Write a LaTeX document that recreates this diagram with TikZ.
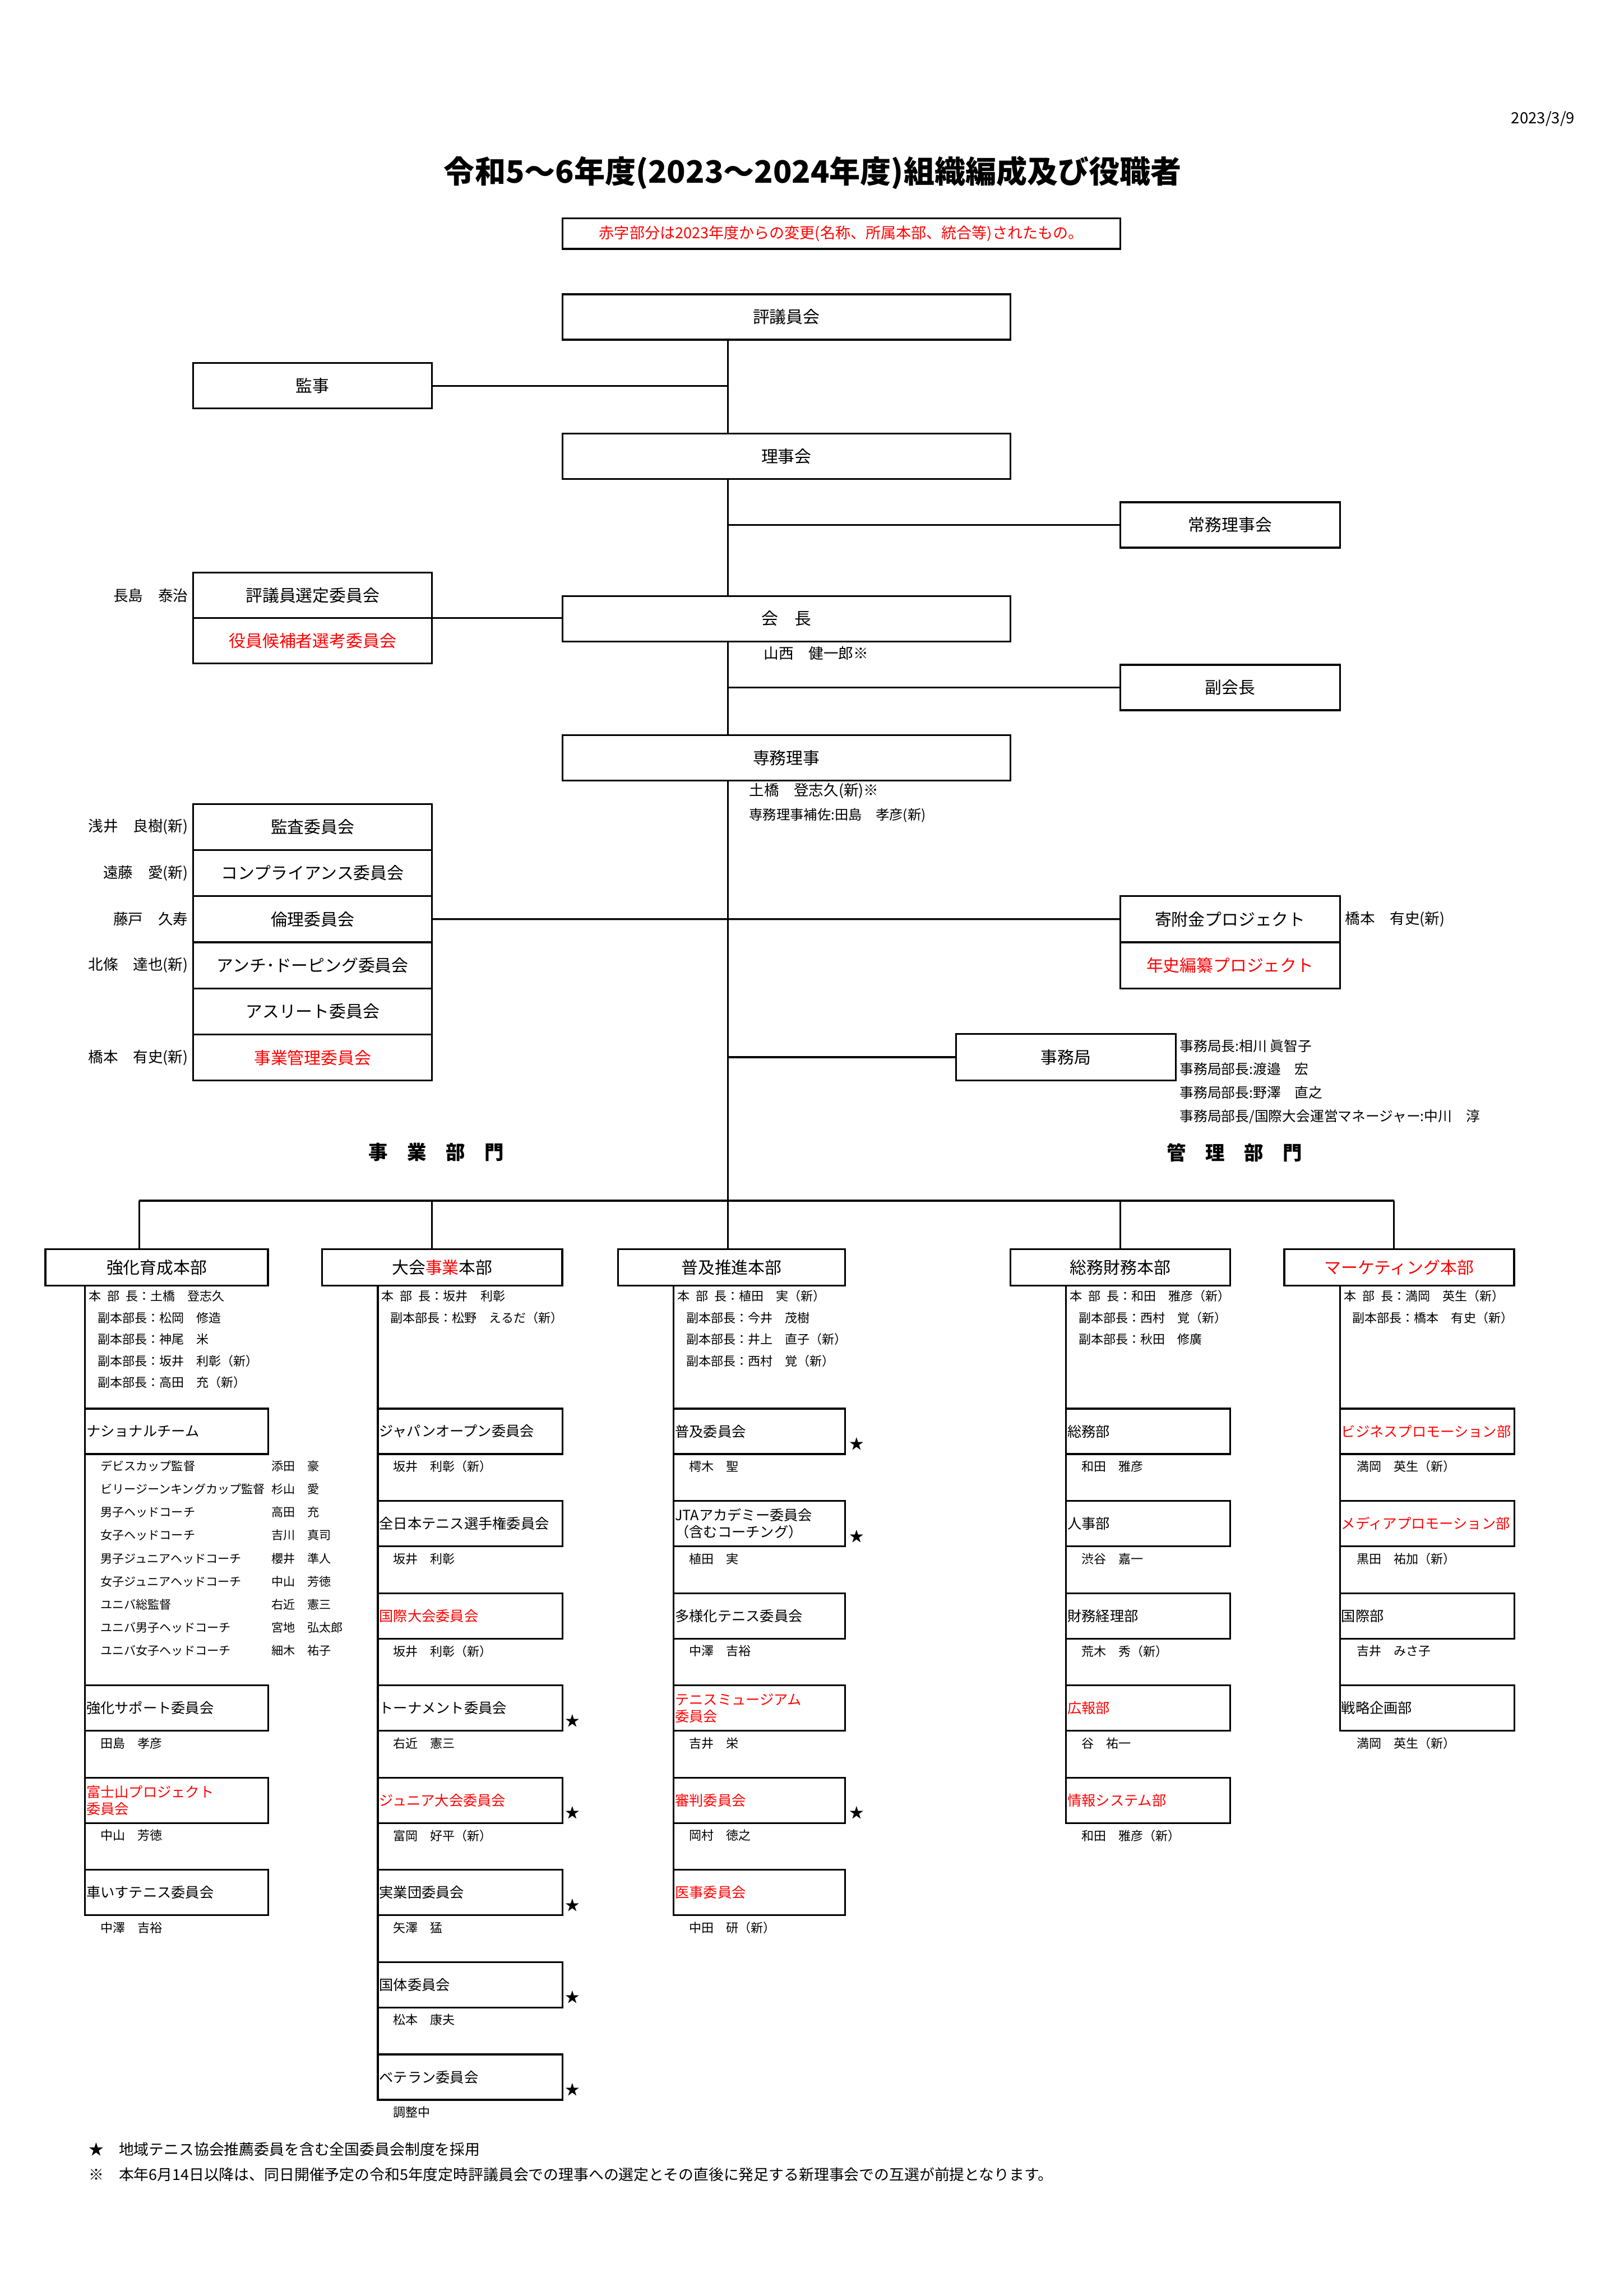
\documentclass[tikz,border=0pt]{standalone}
\usepackage{fontspec}
\setmainfont{Noto Sans CJK JP}
\usepackage{tikz}
\usetikzlibrary{positioning}
\definecolor{chg}{RGB}{255,0,0}

\begin{document}
\begin{tikzpicture}[
    x=0.02cm, y=-0.02cm,
    line width=0.7pt,
    unit/.style={
        draw, outer sep=0pt, inner sep=1pt,
        minimum height=0.62cm,
        font=\fontsize{6.5}{7.5}\selectfont
    },
    hq/.style={
        draw, outer sep=0pt, inner sep=1pt,
        minimum height=0.5cm,
        font=\fontsize{6.5}{7.5}\selectfont
    },
    sub/.style={
        draw, outer sep=0pt, inner xsep=0.6pt, inner ysep=1pt,
        anchor=north west, minimum height=0.62cm, align=left,
        font=\fontsize{5.5}{6.6}\selectfont
    },
    person/.style={inner sep=0pt, font=\fontsize{5.8}{6.5}\selectfont},
    staff/.style={inner sep=0pt, anchor=north west, align=left, font=\fontsize{4.8}{8.4}\selectfont},
    member/.style={inner sep=0pt, font=\fontsize{4.8}{6}\selectfont},
    sect/.style={inner sep=0pt, font=\fontsize{7.5}{9}\selectfont\bfseries},
    starmk/.style={inner sep=0pt, font=\fontsize{5.6}{6}\selectfont},
]
\useasboundingbox (0,0) rectangle (1109,1568);

% ── Header ──
\node[inner sep=0pt, anchor=east, font=\fontsize{6}{7}\selectfont] (date) at (1076,81) {2023/3/9};
\node[inner sep=0pt, font=\fontsize{12}{14}\selectfont\bfseries] (title) at (555,118) {令和5～6年度(2023～2024年度)組織編成及び役職者};
\node[draw, outer sep=0pt, inner sep=1pt, minimum width=7.62cm, minimum height=0.42cm,
      text=chg, font=\fontsize{5.9}{7}\selectfont] (memo) at (574.5,159.5) {赤字部分は2023年度からの変更(名称、所属本部、統合等)されたもの。};

% ── Governance ──
\node[unit, minimum width=6.12cm] (hyogi) at (537,216.5) {評議員会};
\node[unit, minimum width=3.26cm] (kanji) at (213.5,263.5) {監事};
\node[unit, minimum width=6.12cm] (rijikai) at (537,311.5) {理事会};
\node[unit, minimum width=3.0cm] (jomu) at (840,358.5) {常務理事会};
\node[unit, minimum width=3.26cm] (sentei) at (213.5,406.5) {評議員選定委員会};
\node[unit, minimum width=3.26cm, text=chg, below=0pt of sentei] (senko) {役員候補者選考委員会};
\node[unit, minimum width=6.12cm] (kaicho) at (537,422.5) {会　長};
\node[unit, minimum width=3.0cm] (fuku) at (840,469.5) {副会長};
\node[unit, minimum width=6.12cm] (senmu) at (537,517.5) {専務理事};

\node[person, left=0.06cm of sentei] (senteinm) {長島　泰治};
\node[person, anchor=west] (kaichonm) at (521,446) {山西　健一郎※};
\node[person, anchor=west] (senmunm) at (511,540) {土橋　登志久(新)※};
\node[person, anchor=west, font=\fontsize{5.3}{6}\selectfont] (hosanm) at (511,557) {専務理事補佐:田島　孝彦(新)};

% ── Committees ──
\node[unit, minimum width=3.26cm, minimum height=0.63cm] (kansa) at (213.5,564.75) {監査委員会};
\node[unit, minimum width=3.26cm, minimum height=0.63cm, below=0pt of kansa] (comp) {コンプライアンス委員会};
\node[unit, minimum width=3.26cm, minimum height=0.63cm, below=0pt of comp] (rinri) {倫理委員会};
\node[unit, minimum width=3.26cm, minimum height=0.63cm, below=0pt of rinri] (dope) {アンチ･ドーピング委員会};
\node[unit, minimum width=3.26cm, minimum height=0.63cm, below=0pt of dope] (athl) {アスリート委員会};
\node[unit, minimum width=3.26cm, minimum height=0.63cm, text=chg, below=0pt of athl] (jigyo) {事業管理委員会};

\node[person, left=0.06cm of kansa] (kansanm) {浅井　良樹(新)};
\node[person, left=0.06cm of comp] (compnm) {遠藤　愛(新)};
\node[person, left=0.06cm of rinri] (rinrinm) {藤戸　久寿};
\node[person, left=0.06cm of dope] (dopenm) {北條　達也(新)};
\node[person, left=0.06cm of jigyo] (jigyonm) {橋本　有史(新)};

\node[unit, minimum width=3.0cm, minimum height=0.63cm] (kifu) at (840,627.75) {寄附金プロジェクト};
\node[unit, minimum width=3.0cm, minimum height=0.63cm, text=chg, below=0pt of kifu] (nenshi) {年史編纂プロジェクト};
\node[person, right=0.06cm of kifu] (kifunm) {橋本　有史(新)};

\node[unit, minimum width=3.0cm, minimum height=0.64cm] (jimu) at (728,722) {事務局};
\node[staff, font=\fontsize{5.4}{9.1}\selectfont] (jimunm) at (805,709.2) {事務局長:相川 眞智子\\事務局部長:渡邉　宏\\事務局部長:野澤　直之\\事務局部長/国際大会運営マネージャー:中川　淳};

\node[sect] (jigyobu) at (298,787) {事　業　部　門};
\node[sect] (kanribu) at (843,787) {管　理　部　門};

% ── Trunk ──
\coordinate (bar) at (497,820);
\coordinate (d1) at (95,820);
\coordinate (d2) at (295,820);
\coordinate (d4) at (765,820);
\coordinate (d5) at (952,820);

\draw (hyogi.south -| bar) -- (rijikai.north -| bar);
\draw (rijikai.south -| bar) -- (kaicho.north -| bar);
\draw (kaicho.south -| bar) -- (senmu.north -| bar);
\draw (senmu.south -| bar) -- (bar);
\draw (kanji.east) -- (kanji.east -| bar);
\draw (jomu.west) -- (jomu.west -| bar);
\draw (sentei.south east) -- (sentei.south east -| kaicho.west);
\draw (fuku.west) -- (fuku.west -| bar);
\draw (rinri.east) -- (kifu.west);
\draw (jimu.west) -- (jimu.west -| bar);

% ── Headquarters ──
\node[hq, minimum width=3.04cm] (hq1) at (107,865.5) {強化育成本部};
\node[hq, minimum width=3.28cm] (hq2) at (302,865.5) {大会{\color{chg}事業}本部};
\node[hq, minimum width=3.1cm] (hq3) at (499.5,865.5) {普及推進本部};
\node[hq, minimum width=3.0cm] (hq4) at (765,865.5) {総務財務本部};
\node[hq, minimum width=3.14cm, text=chg] (hq5) at (955.5,865.5) {マーケティング本部};

\draw (d1) -- (d5);
\draw (d1) -- (d1 |- hq1.north);
\draw (d2) -- (d2 |- hq2.north);
\draw (bar) -- (bar |- hq3.north);
\draw (d4) -- (d4 |- hq4.north);
\draw (d5) -- (d5 |- hq5.north);

% ── 強化育成本部 ──
\node[staff] (hq1st) at (60,880.6) {本\enspace 部\enspace 長：土橋　登志久\\\hspace*{0.12cm}副本部長：松岡　修造\\\hspace*{0.12cm}副本部長：神尾　米\\\hspace*{0.12cm}副本部長：坂井　利彰（新）\\\hspace*{0.12cm}副本部長：高田　充（新）};
\node[sub, text width=2.46cm] (c1a) at (58,962) {ナショナルチーム};
\node[member, anchor=north west, align=left, font=\fontsize{4.6}{8.96}\selectfont] (c1alist) at (68,996.8) {%
\makebox[2.34cm][l]{デビスカップ監督}添田　豪\\
\makebox[2.34cm][l]{ビリージーンキングカップ監督}杉山　愛\\
\makebox[2.34cm][l]{男子ヘッドコーチ}高田　充\\
\makebox[2.34cm][l]{女子ヘッドコーチ}吉川　真司\\
\makebox[2.34cm][l]{男子ジュニアヘッドコーチ}櫻井　準人\\
\makebox[2.34cm][l]{女子ジュニアヘッドコーチ}中山　芳徳\\
\makebox[2.34cm][l]{ユニバ総監督}右近　憲三\\
\makebox[2.34cm][l]{ユニバ男子ヘッドコーチ}宮地　弘太郎\\
\makebox[2.34cm][l]{ユニバ女子ヘッドコーチ}細木　祐子};
\node[sub, text width=2.46cm] (c1b) at (58,1151) {強化サポート委員会};
\node[sub, text width=2.46cm, text=chg] (c1c) at (58,1214) {富士山プロジェクト\\委員会};
\node[sub, text width=2.46cm] (c1d) at (58,1277) {車いすテニス委員会};
\node[member, below right=0.08cm and 0.2cm of c1b.south west] (c1bnm) {田島　孝彦};
\node[member, below right=0.08cm and 0.2cm of c1c.south west] (c1cnm) {中山　芳徳};
\node[member, below right=0.08cm and 0.2cm of c1d.south west] (c1dnm) {中澤　吉裕};
\draw (hq1.south -| c1a.west) -- (c1d.south west);

% ── 大会事業本部 ──
\node[staff] (hq2st) at (260,880.6) {本\enspace 部\enspace 長：坂井　利彰\\\hspace*{0.12cm}副本部長：松野　えるだ（新）};
\node[sub, text width=2.48cm] (c2a) at (258,962) {ジャパンオープン委員会};
\node[sub, text width=2.48cm] (c2b) at (258,1025) {全日本テニス選手権委員会};
\node[sub, text width=2.48cm, text=chg] (c2c) at (258,1088) {国際大会委員会};
\node[sub, text width=2.48cm] (c2d) at (258,1151) {トーナメント委員会};
\node[sub, text width=2.48cm, text=chg] (c2e) at (258,1214) {ジュニア大会委員会};
\node[sub, text width=2.48cm] (c2f) at (258,1277) {実業団委員会};
\node[sub, text width=2.48cm] (c2g) at (258,1340) {国体委員会};
\node[sub, text width=2.48cm] (c2h) at (258,1403) {ベテラン委員会};
\node[member, below right=0.08cm and 0.2cm of c2a.south west] (c2anm) {坂井　利彰（新）};
\node[member, below right=0.08cm and 0.2cm of c2b.south west] (c2bnm) {坂井　利彰};
\node[member, below right=0.08cm and 0.2cm of c2c.south west] (c2cnm) {坂井　利彰（新）};
\node[member, below right=0.08cm and 0.2cm of c2d.south west] (c2dnm) {右近　憲三};
\node[member, below right=0.08cm and 0.2cm of c2e.south west] (c2enm) {富岡　好平（新）};
\node[member, below right=0.08cm and 0.2cm of c2f.south west] (c2fnm) {矢澤　猛};
\node[member, below right=0.08cm and 0.2cm of c2g.south west] (c2gnm) {松本　康夫};
\node[member, below right=0.08cm and 0.2cm of c2h.south west] (c2hnm) {調整中};
\node[starmk] (c2dst) at ([shift={(7,-7)}]c2d.south east) {★};
\node[starmk] (c2est) at ([shift={(7,-7)}]c2e.south east) {★};
\node[starmk] (c2fst) at ([shift={(7,-7)}]c2f.south east) {★};
\node[starmk] (c2gst) at ([shift={(7,-7)}]c2g.south east) {★};
\node[starmk] (c2hst) at ([shift={(7,-7)}]c2h.south east) {★};
\draw (hq2.south -| c2a.west) -- (c2h.south west);

% ── 普及推進本部 ──
\node[staff] (hq3st) at (462,880.6) {本\enspace 部\enspace 長：植田　実（新）\\\hspace*{0.12cm}副本部長：今井　茂樹\\\hspace*{0.12cm}副本部長：井上　直子（新）\\\hspace*{0.12cm}副本部長：西村　覚（新）};
\node[sub, text width=2.30cm] (c3a) at (460,962) {普及委員会};
\node[sub, text width=2.30cm] (c3b) at (460,1025) {JTAアカデミー委員会\\（含むコーチング）};
\node[sub, text width=2.30cm] (c3c) at (460,1088) {多様化テニス委員会};
\node[sub, text width=2.30cm, text=chg] (c3d) at (460,1151) {テニスミュージアム\\委員会};
\node[sub, text width=2.30cm, text=chg] (c3e) at (460,1214) {審判委員会};
\node[sub, text width=2.30cm, text=chg] (c3f) at (460,1277) {医事委員会};
\node[member, below right=0.08cm and 0.2cm of c3a.south west] (c3anm) {樗木　聖};
\node[member, below right=0.08cm and 0.2cm of c3b.south west] (c3bnm) {植田　実};
\node[member, below right=0.08cm and 0.2cm of c3c.south west] (c3cnm) {中澤　吉裕};
\node[member, below right=0.08cm and 0.2cm of c3d.south west] (c3dnm) {吉井　栄};
\node[member, below right=0.08cm and 0.2cm of c3e.south west] (c3enm) {岡村　徳之};
\node[member, below right=0.08cm and 0.2cm of c3f.south west] (c3fnm) {中田　研（新）};
\node[starmk] (c3ast) at ([shift={(8,-7)}]c3a.south east) {★};
\node[starmk] (c3bst) at ([shift={(8,-7)}]c3b.south east) {★};
\node[starmk] (c3est) at ([shift={(8,-7)}]c3e.south east) {★};
\draw (hq3.south -| c3a.west) -- (c3f.south west);

% ── 総務財務本部 ──
\node[staff] (hq4st) at (730,880.6) {本\enspace 部\enspace 長：和田　雅彦（新）\\\hspace*{0.12cm}副本部長：西村　覚（新）\\\hspace*{0.12cm}副本部長：秋田　修廣};
\node[sub, text width=2.20cm] (c4a) at (728,962) {総務部};
\node[sub, text width=2.20cm] (c4b) at (728,1025) {人事部};
\node[sub, text width=2.20cm] (c4c) at (728,1088) {財務経理部};
\node[sub, text width=2.20cm, text=chg] (c4d) at (728,1151) {広報部};
\node[sub, text width=2.20cm, text=chg] (c4e) at (728,1214) {情報システム部};
\node[member, below right=0.08cm and 0.2cm of c4a.south west] (c4anm) {和田　雅彦};
\node[member, below right=0.08cm and 0.2cm of c4b.south west] (c4bnm) {渋谷　嘉一};
\node[member, below right=0.08cm and 0.2cm of c4c.south west] (c4cnm) {荒木　秀（新）};
\node[member, below right=0.08cm and 0.2cm of c4d.south west] (c4dnm) {谷　祐一};
\node[member, below right=0.08cm and 0.2cm of c4e.south west] (c4enm) {和田　雅彦（新）};
\draw (hq4.south -| c4a.west) -- (c4e.south west);

% ── マーケティング本部 ──
\node[staff] (hq5st) at (917,880.6) {本\enspace 部\enspace 長：満岡　英生（新）\\\hspace*{0.12cm}副本部長：橋本　有史（新）};
\node[sub, text width=2.34cm, text=chg] (c5a) at (915,962) {ビジネスプロモーション部};
\node[sub, text width=2.34cm, text=chg] (c5b) at (915,1025) {メディアプロモーション部};
\node[sub, text width=2.34cm] (c5c) at (915,1088) {国際部};
\node[sub, text width=2.34cm] (c5d) at (915,1151) {戦略企画部};
\node[member, below right=0.08cm and 0.22cm of c5a.south west] (c5anm) {満岡　英生（新）};
\node[member, below right=0.08cm and 0.22cm of c5b.south west] (c5bnm) {黒田　祐加（新）};
\node[member, below right=0.08cm and 0.22cm of c5c.south west] (c5cnm) {吉井　みさ子};
\node[member, below right=0.08cm and 0.22cm of c5d.south west] (c5dnm) {満岡　英生（新）};
\draw (hq5.south -| c5a.west) -- (c5d.south west);

% ── Notes ──
\node[inner sep=0pt, anchor=west, font=\fontsize{5.85}{7}\selectfont] (fn1) at (60,1468) {★　地域テニス協会推薦委員を含む全国委員会制度を採用};
\node[inner sep=0pt, anchor=west, font=\fontsize{5.85}{7}\selectfont] (fn2) at (60,1485) {※　本年6月14日以降は、同日開催予定の令和5年度定時評議員会での理事への選定とその直後に発足する新理事会での互選が前提となります。};

\end{tikzpicture}
\end{document}
